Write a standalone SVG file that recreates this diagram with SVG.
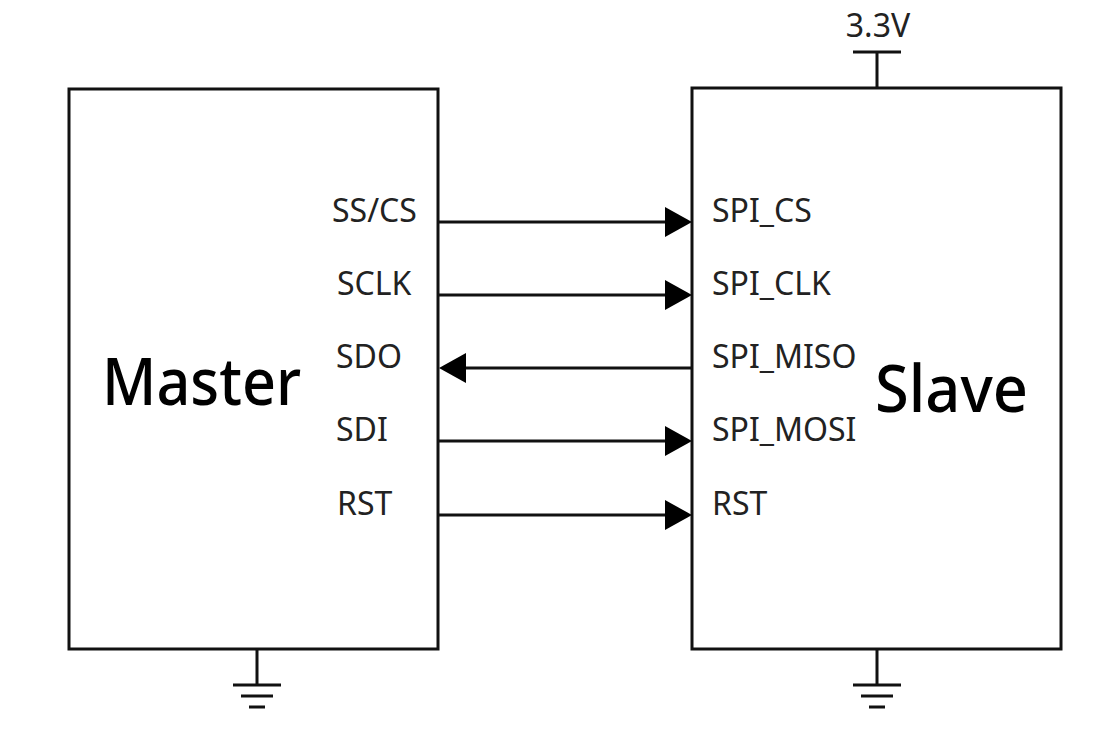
<svg xmlns="http://www.w3.org/2000/svg" width="1103" height="742" viewBox="0 0 1103 742">
<style>
.box{fill:#fff;stroke:#111;stroke-width:3}
.w{stroke:#111;stroke-width:3;fill:none}
.pin{font-family:"Noto Sans","Open Sans",sans-serif;font-size:32px;fill:#222}
.big{font-family:"Noto Sans","Open Sans",sans-serif;font-size:66px;font-weight:500;fill:#000}
.ah{fill:#000}
</style>
<rect width="1103" height="742" fill="#fff"/>
<g id="master">
<rect class="box" x="69" y="89" width="369" height="560"/>
<text class="big" x="102" y="405" textLength="199" lengthAdjust="spacingAndGlyphs">Master</text>
<text class="pin" x="332" y="222">SS/CS</text>
<text class="pin" x="337" y="295">SCLK</text>
<text class="pin" x="336" y="368">SDO</text>
<text class="pin" x="336" y="441">SDI</text>
<text class="pin" x="337" y="515">RST</text>
</g>
<g id="slave">
<rect class="box" x="692" y="88" width="369" height="561"/>
<text class="big" x="875" y="412" textLength="153" lengthAdjust="spacingAndGlyphs">Slave</text>
<text class="pin" x="712" y="222">SPI_CS</text>
<text class="pin" x="712" y="295">SPI_CLK</text>
<text class="pin" x="712" y="368">SPI_MISO</text>
<text class="pin" x="712" y="441">SPI_MOSI</text>
<text class="pin" x="712" y="515">RST</text>
</g>
<g id="vcc">
<path class="w" d="M877 88V52M853 52H901"/>
<text class="pin" x="878" y="37" text-anchor="middle" font-size="31">3.3V</text>
</g>
<g id="gnd-master">
<path class="w" d="M257 649V685M233 685H281M241 696H273M249 707H265"/>
</g>
<g id="gnd-slave">
<path class="w" d="M877 649V685M853 685H901M861 696H893M869 707H885"/>
</g>
<g id="connectors">
<path class="w" d="M438 222H668M438 295H668M464 368H692M438 441H668M438 515H668"/>
<polygon class="ah" points="665,207 692,222 665,237"/>
<polygon class="ah" points="665,280 692,295 665,310"/>
<polygon class="ah" points="466,353 439,368 466,383"/>
<polygon class="ah" points="665,426 692,441 665,456"/>
<polygon class="ah" points="665,500 692,515 665,530"/>
</g>
</svg>
